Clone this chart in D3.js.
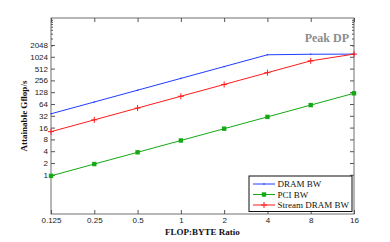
<!DOCTYPE html>
<html>
<head>
<meta charset="utf-8">
<script src="https://cdn.jsdelivr.net/npm/d3@7"></script>
<style>
  body { margin: 0; background: #fff; }
  svg { display: block; }
</style>
</head>
<body>
<section></section>
<script>
// datos
var ratios = [0.125, 0.25, 0.5, 1, 2, 4, 8, 16]
var dramBW = [36, 72, 144, 288, 576, 1152, 1190, 1200]
var pciBW = [0.94, 1.88, 3.75, 7.5, 15, 30, 60, 120]
var streamBW = [12.6, 25.2, 50.4, 100.8, 201.6, 403.2, 806.4, 1200]
var yTicks = [1, 2, 4, 8, 16, 32, 64, 128, 256, 512, 1024, 2048]
var yMinor = [2000, 3000, 4000, 5000, 6000, 7000, 8000, 9000]
var xTickLabels = ["0.125", "0.25", "0.5", "1", "2", "4", "8", "16"]

var width = 390
var height = 242
var margin = { top: 18, bottom: 28, left: 51, right: 36 }

var svg = d3.select("section")
    .append("svg")
    .attr("width", width)
    .attr("height", height)

var escalaX = d3.scaleLog().base(2)
    .domain([0.125, 16])
    .range([margin.left, width - margin.right])

var escalaY = d3.scaleLog()
    .domain([0.1, 10000])
    .range([height - margin.bottom, margin.top])

var x0 = margin.left, x1 = width - margin.right
var y0 = height - margin.bottom, y1 = margin.top

// marco
svg.append("rect")
    .attr("x", x0).attr("y", y1)
    .attr("width", x1 - x0).attr("height", y0 - y1)
    .attr("fill", "none").attr("stroke", "#6e6e6e").attr("stroke-width", 1)

// ejes con ticks hacia dentro
var ejeX = d3.axisBottom(escalaX).tickValues(ratios)
    .tickFormat(function (d, i) { return xTickLabels[i] })
    .tickSizeInner(-4).tickSizeOuter(0).tickPadding(3)
var gx = svg.append("g").attr("transform", "translate(0," + y0 + ")").call(ejeX)

var ejeXTop = d3.axisTop(escalaX).tickValues(ratios).tickFormat("")
    .tickSizeInner(-4).tickSizeOuter(0)
var gxt = svg.append("g").attr("transform", "translate(0," + y1 + ")").call(ejeXTop)

var ejeY = d3.axisLeft(escalaY).tickValues(yTicks)
    .tickFormat(d3.format("d"))
    .tickSizeInner(-4).tickSizeOuter(0).tickPadding(3)
var gy = svg.append("g").attr("transform", "translate(" + x0 + ",0)").call(ejeY)

var ejeYR = d3.axisRight(escalaY).tickValues(yTicks).tickFormat("")
    .tickSizeInner(-4).tickSizeOuter(0)
var gyr = svg.append("g").attr("transform", "translate(" + x1 + ",0)").call(ejeYR)

var ejeYMin = d3.axisLeft(escalaY).tickValues(yMinor).tickFormat("")
    .tickSizeInner(-2).tickSizeOuter(0)
svg.append("g").attr("transform", "translate(" + x0 + ",0)").call(ejeYMin)
var ejeYMinR = d3.axisRight(escalaY).tickValues(yMinor).tickFormat("")
    .tickSizeInner(-2).tickSizeOuter(0)
svg.append("g").attr("transform", "translate(" + x1 + ",0)").call(ejeYMinR)

svg.selectAll(".domain").remove()
svg.selectAll(".tick line").attr("stroke", "#555")
svg.selectAll(".tick text")
    .attr("font-family", "Liberation Sans, Arial, sans-serif")
    .attr("font-size", 8)
    .attr("fill", "#222")

// series
var series = [
    { name: "DRAM BW", values: dramBW, color: "#1f3cff", marker: "dot" },
    { name: "PCI BW", values: pciBW, color: "#14a814", marker: "square" },
    { name: "Stream DRAM BW", values: streamBW, color: "#ff1a1a", marker: "plus" }
]

var linea = d3.line()
    .x(function (d) { return escalaX(d[0]) })
    .y(function (d) { return escalaY(d[1]) })

function dibujarMarcador(g, tipo, color) {
    if (tipo == "square") {
        g.append("rect").attr("x", -2.2).attr("y", -2.2).attr("width", 4.4).attr("height", 4.4)
            .attr("fill", color)
    } else if (tipo == "plus") {
        g.append("path").attr("d", "M-3,0H3M0,-3V3").attr("stroke", color).attr("stroke-width", 1)
    } else {
        g.append("circle").attr("r", 0.8).attr("fill", color)
    }
}

series.forEach(function (s) {
    var pts = ratios.map(function (r, i) { return [r, s.values[i]] })
    svg.append("path")
        .datum(pts)
        .attr("d", linea)
        .attr("fill", "none")
        .attr("stroke", s.color)
        .attr("stroke-width", 1)
    pts.forEach(function (p) {
        var g = svg.append("g").attr("transform", "translate(" + escalaX(p[0]) + "," + escalaY(p[1]) + ")")
        dibujarMarcador(g, s.marker, s.color)
    })
})

// etiqueta Peak DP
svg.append("text")
    .attr("x", 349).attr("y", 42)
    .attr("text-anchor", "end")
    .attr("font-family", "Liberation Serif, Times New Roman, serif")
    .attr("font-weight", "bold")
    .attr("font-size", 12)
    .attr("fill", "#8c8c8c")
    .text("Peak DP")

// titulos de ejes
svg.append("text")
    .attr("x", (x0 + x1) / 2).attr("y", 235)
    .attr("text-anchor", "middle")
    .attr("font-family", "Liberation Serif, Times New Roman, serif")
    .attr("font-weight", "bold")
    .attr("font-size", 9)
    .attr("fill", "#111")
    .text("FLOP:BYTE Ratio")

svg.append("text")
    .attr("transform", "translate(27," + (y0 + y1) / 2 + ") rotate(-90)")
    .attr("text-anchor", "middle")
    .attr("font-family", "Liberation Serif, Times New Roman, serif")
    .attr("font-weight", "bold")
    .attr("font-size", 9)
    .attr("fill", "#111")
    .text("Attainable Gflop/s")

// leyenda
var leyenda = svg.append("g").attr("transform", "translate(249,176)")
leyenda.append("rect")
    .attr("width", 103).attr("height", 35.5)
    .attr("fill", "#fff").attr("stroke", "#111").attr("stroke-width", 1)
series.forEach(function (s, i) {
    var yy = 8 + i * 10.5
    leyenda.append("line")
        .attr("x1", 4).attr("x2", 26).attr("y1", yy).attr("y2", yy)
        .attr("stroke", s.color).attr("stroke-width", 1)
    var g = leyenda.append("g").attr("transform", "translate(15," + yy + ")")
    dibujarMarcador(g, s.marker, s.color)
    leyenda.append("text")
        .attr("x", 28.5).attr("y", yy + 3)
        .attr("font-family", "Liberation Serif, Times New Roman, serif")
        .attr("font-size", 9)
        .attr("fill", "#111")
        .text(s.name)
})
</script>
</body>
</html>
